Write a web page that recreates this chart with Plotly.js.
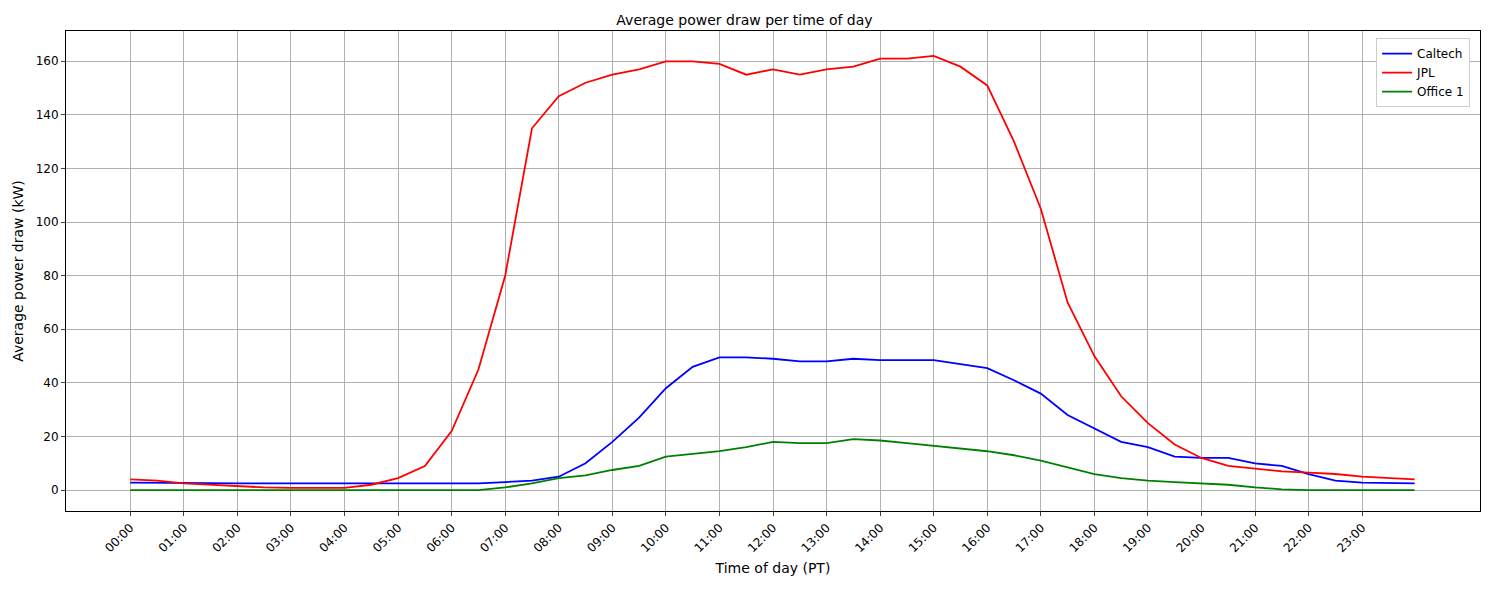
<html><head><script src="https://cdn.plot.ly/plotly-3.0.1.min.js"></script></head>
<body style="margin:0"><div id="chart" style="width:1489px;height:590px"></div>
<script>
// half-hour samples, hours 0 .. 24
var hours = []
for (var i = 0; i <= 48; i++) hours.push(Math.min(i / 2, 23.98))

var caltech = [2.8,2.8,2.7,2.6,2.5,2.5,2.5,2.5,2.5,2.5,2.6,2.6,2.5,2.5,3,3.5,5,10,18,27,38,46,49.5,49.5,49,48,48,49,48.5,48.5,48.5,47,45.5,41,36,28,23,18,16,12.5,12,12,10,9,6,3.5,2.8,2.6,2.5]
var jpl = [4,3.5,2.5,2,1.5,1,0.8,0.7,0.8,2,4.5,9,22,45,80,135,147,152,155,157,160,160,159,155,157,155,157,158,161,161,162,158,151,130,105,70,50,35,25,17,12,9,8,7,6.5,6,5,4.5,4]
var office = [0,0,0,0,0,0,0,0,0,0,0,0,0,0,1,2.5,4.5,5.5,7.5,9,12.5,13.5,14.5,16,18,17.5,17.5,19,18.5,17.5,16.5,15.5,14.5,13,11,8.5,6,4.5,3.5,3,2.5,2,1,0.3,0,0,0,0,0]

var tickVals = [], tickText = []
for (var h = 0; h < 24; h++) { tickVals.push(h); tickText.push((h < 10 ? '0' : '') + h + ':00') }

var traces = [
    {x: hours, y: caltech, name: 'Caltech', type: 'scatter', mode: 'lines', line: {color: 'blue', width: 1.8}},
    {x: hours, y: jpl, name: 'JPL', type: 'scatter', mode: 'lines', line: {color: 'red', width: 1.8}},
    {x: hours, y: office, name: 'Office 1', type: 'scatter', mode: 'lines', line: {color: 'green', width: 1.8}},
]

var layout = {
    width: 1489, height: 590,
    font: {family: 'DejaVu Sans', size: 12, color: 'black'},
    title: {text: 'Average power draw per time of day', x: 0.5, y: 0.975, font: {size: 14}},
    paper_bgcolor: 'white', plot_bgcolor: 'white',
    margin: {l: 66, r: 9, t: 31, b: 79},
    xaxis: {
        range: [-1.2, 25.2], tickvals: tickVals, ticktext: tickText, tickangle: -45,
        showgrid: true, gridcolor: '#b0b0b0', zeroline: false,
        showline: true, mirror: true, linecolor: 'black', ticks: 'outside', ticklen: 4,
        title: {text: 'Time of day (PT)', standoff: 8},
    },
    yaxis: {
        range: [-7.8, 171.3], dtick: 20,
        showgrid: true, gridcolor: '#b0b0b0', zeroline: false,
        showline: true, mirror: true, linecolor: 'black', ticks: 'outside', ticklen: 4,
        title: {text: 'Average power draw (kW)', standoff: 8},
    },
    legend: {x: 0.993, y: 0.985, xanchor: 'right', yanchor: 'top', bordercolor: '#ccc', borderwidth: 1, bgcolor: 'white'},
    showlegend: true,
}

Plotly.newPlot('chart', traces, layout, {displayModeBar: false})
</script></body></html>
